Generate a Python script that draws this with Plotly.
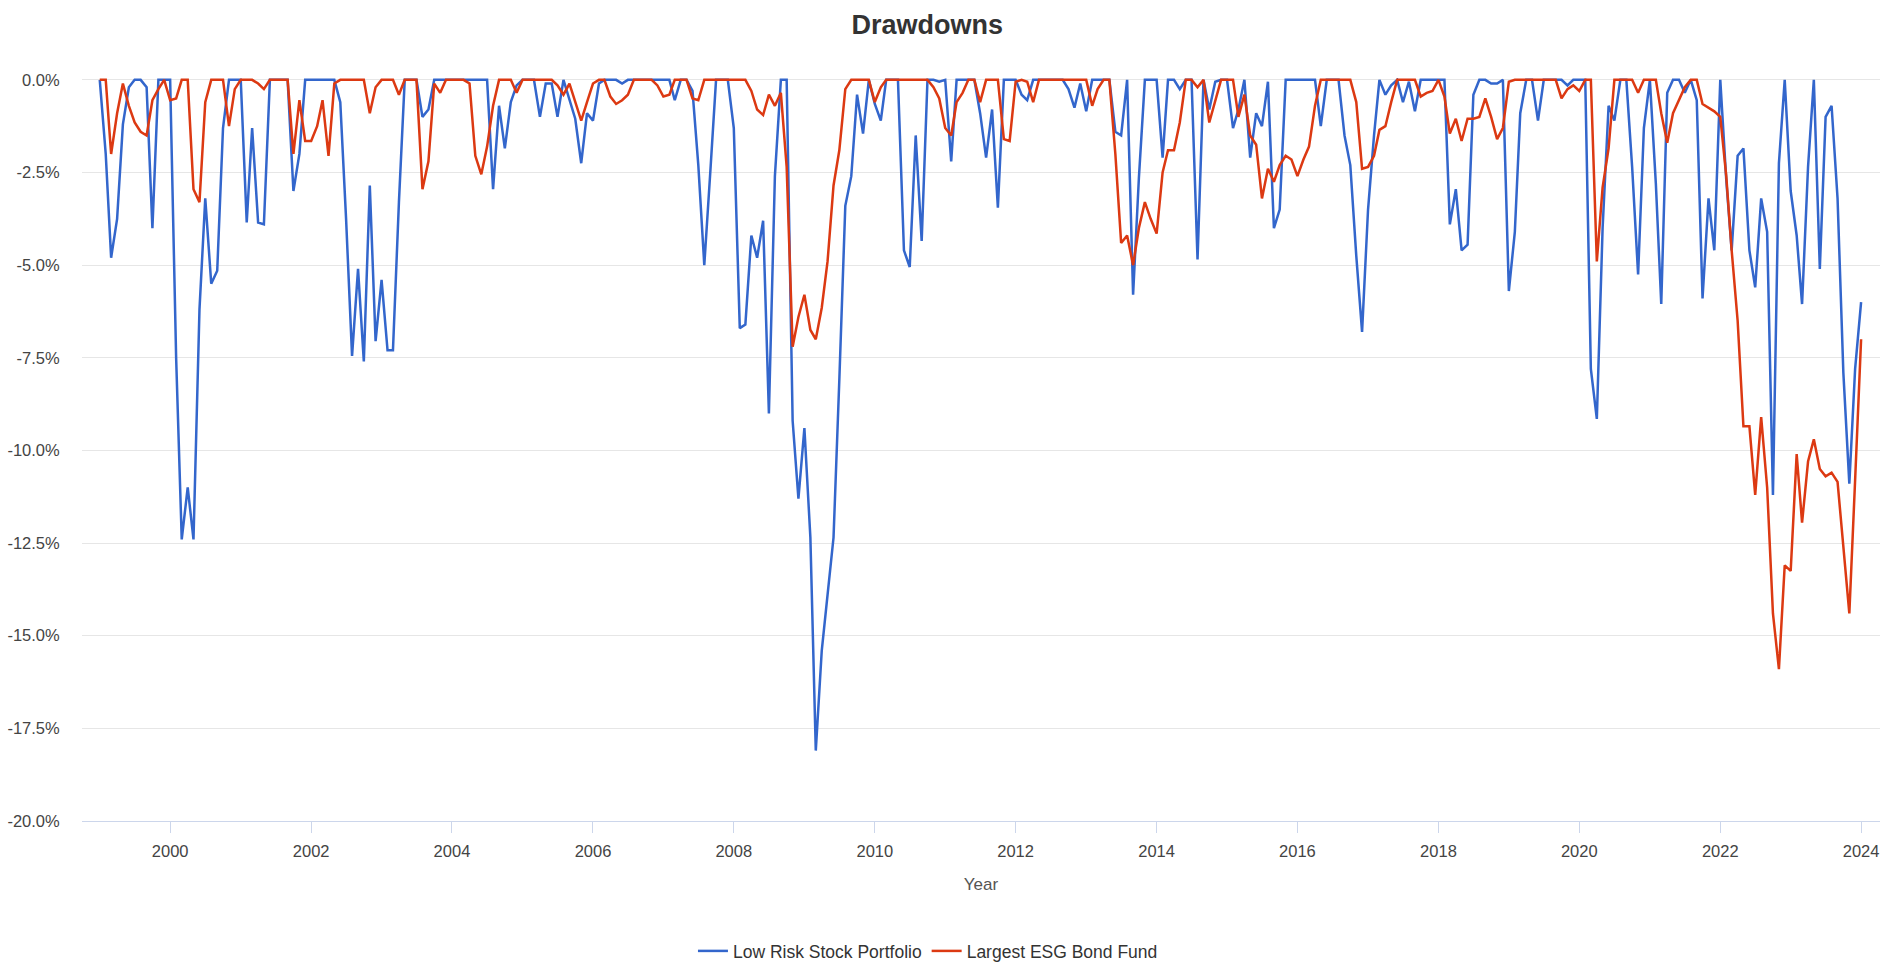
import pandas as pd
import plotly.graph_objects as go

# Monthly observations, Jan 1999 .. Jan 2024 (values in %)
start_month = "1999-01-01"
n_months = 301

low_risk_stock = [
    0, -2.0, -4.8, -3.75, -1.2, -0.2, 0, 0, -0.2, -4.0, 0, 0,                 # 1999
    0, -7.5, -12.4, -11.0, -12.4, -6.2, -3.2, -5.5, -5.15, -1.3, 0, 0,        # 2000
    0, -3.85, -1.3, -3.85, -3.9, 0, 0, 0, 0, -3.0, -2.0, 0,                   # 2001
    0, 0, 0, 0, 0, -0.6, -3.75, -7.45, -5.1, -7.6, -2.85, -7.05,              # 2002
    -5.4, -7.3, -7.3, -3.3, 0, 0, 0, -1.0, -0.8, 0, 0, 0,                     # 2003
    0, 0, 0, 0, 0, 0, 0, -2.95, -0.7, -1.85, -0.6, -0.15,                     # 2004
    0, 0, 0, -1.0, -0.1, -0.1, -1.0, 0, -0.5, -1.05, -2.25, -0.9,             # 2005
    -1.1, -0.1, 0, 0, 0, -0.1, 0, 0, 0, 0, 0, 0,                              # 2006
    0, 0, -0.55, 0, 0, -0.3, -2.3, -5.0, -2.5, 0, 0, 0,                       # 2007
    -1.3, -6.7, -6.6, -4.2, -4.8, -3.8, -9.0, -2.6, 0, 0, -9.2, -11.3,        # 2008
    -9.4, -12.35, -18.1, -15.4, -13.9, -12.35, -8.1, -3.4, -2.6, -0.4, -1.45, 0,  # 2009
    -0.65, -1.1, 0, 0, 0, -4.6, -5.05, -1.5, -4.35, 0, 0, -0.05,             # 2010
    0, -2.2, 0, 0, 0, 0, -0.9, -2.1, -0.8, -3.45, 0, 0,                       # 2011
    0, -0.4, -0.55, 0, 0, 0, 0, 0, 0, -0.25, -0.75, -0.1,                     # 2012
    -0.85, 0, 0, 0, 0, -1.4, -1.5, 0, -5.8, -2.65, 0, 0,                      # 2013
    0, -2.1, 0, 0, -0.25, 0, 0, -4.85, 0, -0.8, -0.05, 0,                     # 2014
    0, -1.3, -0.8, 0, -2.1, -0.9, -1.25, -0.05, -4.0, -3.5, 0, 0,             # 2015
    0, 0, 0, 0, -1.25, 0, 0, 0, -1.5, -2.3, -4.75, -6.8,                      # 2016
    -3.5, -1.5, 0, -0.4, -0.15, 0, -0.6, -0.05, -0.85, 0, 0, 0,               # 2017
    0, 0, -3.9, -2.95, -4.6, -4.45, -0.4, 0, 0, -0.1, -0.1, 0,                # 2018
    -5.7, -4.1, -0.9, 0, 0, -1.1, 0, 0, 0, 0, -0.15, 0,                       # 2019
    0, 0, -7.8, -9.15, -4.0, -0.7, -1.1, 0, 0, -2.35, -5.25, -1.3,            # 2020
    0, -2.8, -6.05, -0.35, 0, 0, -0.35, 0, -0.55, -5.9, -3.2, -4.6,           # 2021
    0, -2.7, -4.6, -2.05, -1.85, -4.6, -5.6, -3.2, -4.1, -11.2, -2.25, 0,     # 2022
    -3.0, -4.2, -6.05, -2.35, 0, -5.1, -1.0, -0.7, -3.2, -7.9, -10.9, -7.8,   # 2023
    -6.0,                                                                     # 2024
]

esg_bond_fund = [
    0, 0, -2.0, -0.9, -0.1, -0.7, -1.15, -1.4, -1.5, -0.55, -0.25, 0,         # 1999
    -0.55, -0.5, 0, 0, -2.95, -3.3, -0.6, 0, 0, 0, -1.25, -0.25,              # 2000
    0, 0, 0, -0.1, -0.25, 0, 0, 0, 0, -2.0, -0.55, -1.65,                     # 2001
    -1.65, -1.25, -0.55, -2.05, -0.1, 0, 0, 0, 0, 0, -0.9, -0.2,              # 2002
    0, 0, 0, -0.4, 0, 0, 0, -2.95, -2.2, -0.1, -0.35, 0,                      # 2003
    0, 0, 0, -0.1, -2.05, -2.55, -1.8, -0.7, 0, 0, 0, -0.35,                  # 2004
    0, 0, 0, 0, 0, 0, -0.15, -0.4, -0.1, -0.6, -1.1, -0.6,                    # 2005
    -0.1, 0, 0, -0.45, -0.65, -0.55, -0.4, 0, 0, 0, 0, -0.15,                 # 2006
    -0.45, -0.4, 0, 0, 0, -0.5, -0.55, 0, 0, 0, 0, 0,                         # 2007
    0, 0, 0, -0.3, -0.8, -0.95, -0.4, -0.7, -0.35, -2.35, -7.2, -6.4,         # 2008
    -5.8, -6.75, -7.0, -6.15, -4.9, -2.85, -1.9, -0.25, 0, 0, 0, 0,           # 2009
    -0.6, -0.2, 0, 0, 0, 0, 0, 0, 0, 0, -0.2, -0.5,                           # 2010
    -1.3, -1.5, -0.6, -0.35, 0, 0, -0.6, 0, 0, 0, -1.6, -1.65,                # 2011
    -0.05, 0, -0.05, -0.6, 0, 0, 0, 0, 0, 0, 0, 0,                            # 2012
    0, -0.7, -0.25, 0, 0, -2.0, -4.4, -4.2, -5.0, -4.0, -3.3, -3.75,          # 2013
    -4.15, -2.5, -1.9, -1.9, -1.15, 0, 0, -0.2, 0, -1.15, -0.6, 0,            # 2014
    0, 0, -1.0, -0.4, -1.5, -1.75, -3.2, -2.4, -2.75, -2.3, -2.05, -2.15,     # 2015
    -2.6, -2.15, -1.8, -0.7, 0, 0, 0, 0, 0, 0, -0.6, -2.4,                    # 2016
    -2.35, -2.05, -1.35, -1.25, -0.6, 0, 0, 0, 0, -0.45, -0.35, -0.3,         # 2017
    0, -0.45, -1.45, -1.05, -1.65, -1.05, -1.05, -1.0, -0.5, -1.0, -1.6, -1.3,  # 2018
    -0.05, 0, 0, 0, 0, 0, 0, 0, 0, -0.5, -0.25, -0.15,                        # 2019
    -0.3, 0, 0, -4.9, -2.9, -1.85, 0, 0, 0, 0, -0.35, 0,                      # 2020
    0, 0, -0.9, -1.7, -0.9, -0.55, -0.2, 0, 0, -0.65, -0.75, -0.85,           # 2021
    -1.0, -2.6, -4.6, -6.5, -9.35, -9.35, -11.2, -9.1, -11.0, -14.4, -15.9, -13.1,  # 2022
    -13.25, -10.1, -11.95, -10.3, -9.7, -10.5, -10.7, -10.6, -10.85, -12.6, -14.4, -10.8,  # 2023
    -7.0,                                                                     # 2024
]

series_names = ["Low Risk Stock Portfolio", "Largest ESG Bond Fund"]
series_colors = ["#3366cc", "#dc3912"]

y_tick_values = [0, -2.5, -5, -7.5, -10, -12.5, -15, -17.5, -20]
y_tick_labels = ["0.0%", "-2.5%", "-5.0%", "-7.5%", "-10.0%", "-12.5%", "-15.0%", "-17.5%", "-20.0%"]

dates = pd.date_range(start_month, periods=n_months, freq="MS")

FONT = "Liberation Sans, Arial, sans-serif"

fig = go.Figure()
for name, vals, col in zip(series_names, [low_risk_stock, esg_bond_fund], series_colors):
    fig.add_trace(go.Scatter(
        x=dates, y=vals, name=name, mode="lines",
        line=dict(color=col, width=2.5),
        hovertemplate="%{x|%b %Y}: %{y:.2f}%<extra>" + name + "</extra>",
    ))

fig.update_layout(
    width=1900, height=966,
    autosize=False,
    margin=dict(l=82, r=20, t=78, b=145, autoexpand=False),
    paper_bgcolor="white", plot_bgcolor="white",
    font=dict(family=FONT, size=16, color="#444444"),
    title=dict(text="<b>Drawdowns</b>", x=0.488, xanchor="center",
               xref="container", y=0.975, yref="container", yanchor="middle",
               font=dict(family=FONT, size=27, color="#333333")),
    showlegend=True,
    legend=dict(orientation="h", x=0.4705, xanchor="center",
                y=-0.175, yanchor="middle",
                font=dict(family=FONT, size=17.5, color="#333333"),
                itemwidth=30),
    xaxis=dict(
        type="date",
        range=["1998-10-01", "2024-04-08"],
        tick0="2000-01-01", dtick="M24", tickformat="%Y",
        showgrid=False, zeroline=False,
        showline=True, linecolor="#ccd6eb", linewidth=1,
        ticks="outside", ticklen=11, tickcolor="#ccd6eb", tickwidth=1,
        ticklabelstandoff=4,
        tickfont=dict(family=FONT, size=16.5, color="#444444"),
        title=dict(text="Year", standoff=19,
                   font=dict(family=FONT, size=17, color="#555555")),
    ),
    yaxis=dict(
        range=[-20, 0.05],
        tickvals=y_tick_values, ticktext=y_tick_labels,
        showgrid=True, gridcolor="#e6e6e6", gridwidth=1,
        zeroline=False, showline=False,
        ticks="outside", ticklen=18, tickcolor="rgba(0,0,0,0)",
        tickfont=dict(family=FONT, size=16.5, color="#444444"),
    ),
    hovermode="x unified",
)

fig.write_html("out.html",
               config={"displayModeBar": False},
               post_script="document.body.style.margin='0';document.body.style.overflow='hidden';")
